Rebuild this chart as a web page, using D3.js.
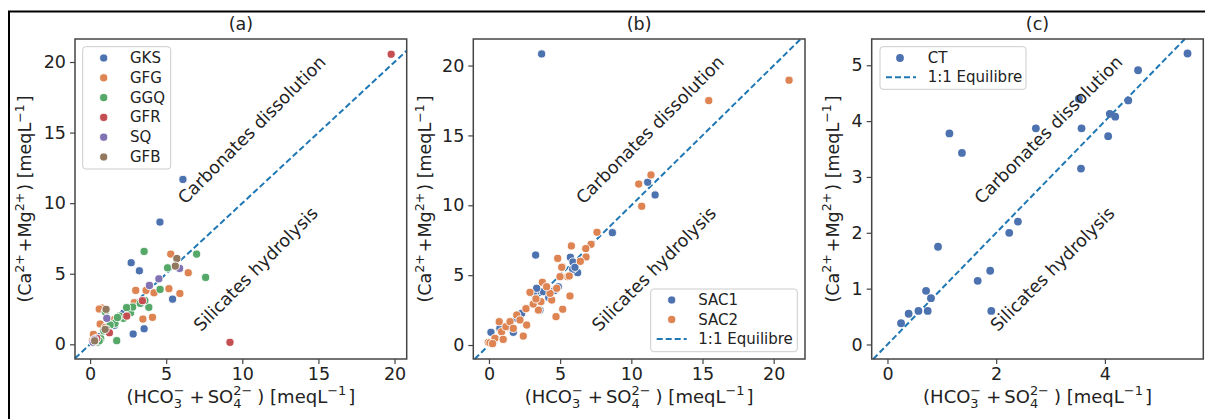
<!DOCTYPE html>
<html>
<head>
<meta charset="utf-8">
<script src="https://cdn.jsdelivr.net/npm/d3@7"></script>
<style>
  body { margin: 0; background: #fff; }
  svg text { font-family: "DejaVu Sans", sans-serif; fill: #222; white-space: pre; }
</style>
</head>
<body>
<svg id="chart" width="1205" height="419"></svg>
<script>
// ---- data ----
var groupNamesA = ["GKS", "GFG", "GGQ", "GFR", "SQ", "GFB"];
var gks = [[6.1,11.68],[4.59,8.66],[2.7,5.78],[3.24,5.21],[5.42,3.2],[3.55,1.1],[2.83,0.73],[1.6,1.35],[0.3,0.3],[0.5,0.55],[2.2,2.2]];
var gfg = [[5.3,6.39],[6.45,5.07],[5.18,3.94],[5.9,3.6],[3.0,3.82],[3.68,3.82],[4.2,3.65],[3.47,1.79],[4.1,1.91],
           [0.79,2.57],[0.6,2.5],[0.66,1.44],[0.22,0.7],[0.4,0.4],[1.0,1.2],[1.6,1.75],[0.15,0.25],[2.9,2.95]];
var ggq = [[3.55,6.58],[7.0,6.39],[7.59,4.74],[5.09,5.42],[4.6,3.89],[3.86,2.62],[2.66,2.24],[2.8,2.64],[1.75,0.26],
           [2.19,1.84],[1.93,2.0],[1.64,1.49],[1.32,1.37],[1.1,1.05],[0.9,0.95],[0.7,0.4],[0.5,0.15],[3.3,2.9],
           [3.6,3.1],[2.4,2.6],[1.8,1.9],[1.0,2.3],[0.6,0.25]];
var gfr = [[19.78,20.55],[9.19,0.14],[3.44,3.09],[2.41,2.0],[1.27,0.82],[0.44,0.42],[0.3,0.2]];
var sq  = [[5.88,5.38],[4.52,4.64],[3.9,4.17],[1.1,1.84],[0.3,0.35],[0.2,0.15]];
var gfb = [[5.7,6.08],[5.6,5.54],[1.05,2.48],[0.99,1.06],[0.3,0.25]];

var groupNamesB = ["SAC1", "SAC2"];
var sac1 = [[3.7,20.83],[11.15,11.65],[11.67,10.74],[8.67,8.04],[3.28,6.44],[5.72,6.28],[5.9,5.94],[6.23,5.18],[5.88,5.42],
            [6.04,5.56],[3.58,2.5],[3.4,3.87],[3.82,3.82],[3.11,3.7],[3.35,4.06],[4.87,4.17],[4.6,3.9],[1.71,0.91],
            [0.14,0.91],[1.95,1.91],[2.3,2.27],[1.36,1.31],[0.77,1.19],[0.3,0.2],[4.2,3.4]];
var sac2 = [[21.08,18.95],[15.44,17.49],[11.38,12.17],[10.52,11.52],[10.73,9.93],[7.59,8.07],[7.17,7.21],[5.79,7.09],
            [6.8,6.9],[4.83,6.2],[6.82,6.3],[6.42,5.99],[5.15,5.6],[5.53,4.89],[3.75,4.49],[2.88,3.77],[5.69,3.51],
            [5.18,2.56],[4.71,2.03],[2.41,0.64],[0.72,1.67],[-0.05,0.19],[0.07,0.16],[0.42,0.48],[0.89,0.95],
            [1.19,1.31],[1.48,1.67],[1.95,2.15],[2.18,1.79],[1.71,1.19],[2.65,1.43],[3.47,2.5],[3.11,2.93],
            [3.65,3.1],[4.41,3.22],[4.29,3.7],[4.05,4.17],[4.76,4.06],[4.99,4.89],[5.64,4.94],[5.11,5.56],
            [2.6,2.6],[3.3,3.3],[0.25,0.1],[1.0,0.4]];

var groupNamesC = ["CT"];
var ct = [[5.52,5.21],[4.61,4.91],[3.52,4.4],[4.43,4.37],[4.09,4.13],[4.19,4.08],[2.73,3.87],[3.57,3.87],[4.06,3.73],
          [1.14,3.78],[1.37,3.43],[3.56,3.15],[2.4,2.2],[2.24,2.0],[0.93,1.75],[1.89,1.32],[1.66,1.14],[0.71,0.96],
          [0.8,0.83],[1.91,0.6],[0.74,0.6],[0.57,0.6],[0.39,0.55],[0.25,0.38]];

var titles = ["(a)", "(b)", "(c)"];
var ticksAB = [0, 5, 10, 15, 20];
var ticksCx = [0, 2, 4];
var ticksCy = [0, 1, 2, 3, 4, 5];
var lineLabel = "1:1 Equilibre";
var upperText = "Carbonates dissolution";
var lowerText = "Silicates hydrolysis";

var palette = ["#4c72b0", "#dd8452", "#55a868", "#c44e52", "#8172b3", "#937860"];
var lineColor = "#1f77b4";

// ---- drawing ----
var svg = d3.select("#chart");
var FS = 17.5;

var ctx = document.createElement("canvas").getContext("2d");
function textW(s, fs) {
  ctx.font = fs + 'px "DejaVu Sans"';
  return ctx.measureText(s).width;
}

// text with super/subscripts, centred on (0,0) horizontally
function richText(g, parts, fs) {
  var t = g.append("text").attr("font-size", fs);
  var x = 0, sfs = fs * 0.72;
  parts.forEach(function(p) {
    if (typeof p === "number") { x += p; return; }
    if (typeof p === "string") {
      t.append("tspan").attr("x", x).attr("y", 0).text(p);
      x += textW(p, fs);
    } else {
      var adv = 0;
      if (p.sub) {
        t.append("tspan").attr("x", x).attr("y", fs * 0.28).attr("font-size", sfs).text(p.sub);
        adv = Math.max(adv, textW(p.sub, sfs));
      }
      if (p.sup) {
        t.append("tspan").attr("x", x).attr("y", -fs * 0.42).attr("font-size", sfs).text(p.sup);
        adv = Math.max(adv, textW(p.sup, sfs));
      }
      x += adv + 2;
    }
  });
  t.attr("transform", "translate(" + (-x / 2) + ",0)");
  return t;
}

var xLabelParts = ["(HCO", {sub: "3", sup: "\u2212"}, 3, "+", 3, "SO", {sub: "4", sup: "2\u2212"}, 3, ") [meqL", {sup: "\u22121"}, "]"];
var yLabelParts = ["(Ca", {sup: "2+"}, "+Mg", {sup: "2+"}, ") [meqL", {sup: "\u22121"}, "]"];

// outer frame
svg.append("path").attr("d", "M9,420V11.5H1206").attr("fill", "none").attr("stroke", "#000").attr("stroke-width", 2);

function panel(cfg) {
  var x = d3.scaleLinear().domain(cfg.xd).range([cfg.left, cfg.right]);
  var y = d3.scaleLinear().domain(cfg.yd).range([cfg.bottom, cfg.top]);
  var g = svg.append("g");

  // 1:1 line
  var lo = Math.max(cfg.xd[0], cfg.yd[0]), hi = Math.min(cfg.xd[1], cfg.yd[1]);
  g.append("line")
    .attr("x1", x(lo)).attr("y1", y(lo)).attr("x2", x(hi)).attr("y2", y(hi))
    .attr("stroke", lineColor).attr("stroke-width", 2).attr("stroke-dasharray", "6,3");

  // points
  cfg.series.forEach(function(s, i) {
    g.append("g").selectAll("circle").data(s).enter().append("circle")
      .attr("cx", function(d) { return x(d[0]); })
      .attr("cy", function(d) { return y(d[1]); })
      .attr("r", cfg.edge ? 4.1 : 3.9)
      .attr("fill", palette[i])
      .attr("stroke", cfg.edge ? "#fff" : "none")
      .attr("stroke-width", 0.9);
  });

  // annotations
  var w = cfg.right - cfg.left, h = cfg.bottom - cfg.top;
  [[upperText, 0.533, 0.284], [lowerText, 0.545, 0.719]].forEach(function(a) {
    var cx = cfg.left + a[1] * w, cy = cfg.top + a[2] * h;
    g.append("text").attr("font-size", FS)
      .attr("text-anchor", "middle").attr("dominant-baseline", "central")
      .attr("transform", "translate(" + cx + "," + cy + ") rotate(-45)")
      .text(a[0]);
  });

  // axes
  var xa = g.append("g").attr("transform", "translate(0," + cfg.bottom + ")")
    .call(d3.axisBottom(x).tickValues(cfg.xt).tickSize(5).tickPadding(4).tickFormat(d3.format("d")));
  var ya = g.append("g").attr("transform", "translate(" + cfg.left + ",0)")
    .call(d3.axisLeft(y).tickValues(cfg.yt).tickSize(5).tickPadding(4).tickFormat(d3.format("d")));
  [xa, ya].forEach(function(a) {
    a.select(".domain").remove();
    a.selectAll("line").attr("stroke", "#444").attr("stroke-width", 1.2);
    a.selectAll("text").attr("font-size", FS).attr("font-family", null).attr("fill", "#222");
  });
  g.append("rect").attr("x", cfg.left).attr("y", cfg.top).attr("width", w).attr("height", h)
    .attr("fill", "none").attr("stroke", "#444").attr("stroke-width", 1.5);

  // title and labels
  g.append("text").attr("x", cfg.left + w / 2).attr("y", 30).attr("text-anchor", "middle")
    .attr("font-size", FS).text(cfg.title);
  richText(g.append("g").attr("transform", "translate(" + (cfg.left + w / 2) + ",403)"), xLabelParts, 18);
  richText(g.append("g").attr("transform", "translate(" + (cfg.left - cfg.ylOff) + "," + (cfg.top + h / 2) + ") rotate(-90)"),
    yLabelParts, FS);

  // legend
  var L = cfg.legend;
  var lg = g.append("g");
  lg.append("rect").attr("x", L.x0).attr("y", L.y0).attr("width", L.x1 - L.x0).attr("height", L.y1 - L.y0)
    .attr("rx", 3).attr("fill", "#fff").attr("fill-opacity", 0.8).attr("stroke", "#ccc");
  L.names.forEach(function(n, i) {
    var ry = L.rowY + i * L.step;
    lg.append("circle").attr("cx", L.mx).attr("cy", ry).attr("r", cfg.edge ? 4.1 : 3.9)
      .attr("fill", palette[i]).attr("stroke", cfg.edge ? "#fff" : "none").attr("stroke-width", 0.9);
    lg.append("text").attr("x", L.tx).attr("y", ry).attr("dominant-baseline", "central")
      .attr("font-size", 15).text(n);
  });
  if (L.line) {
    var ly = L.rowY + L.names.length * L.step;
    lg.append("line").attr("x1", L.line[0]).attr("x2", L.line[1]).attr("y1", ly).attr("y2", ly)
      .attr("stroke", lineColor).attr("stroke-width", 2).attr("stroke-dasharray", "6,3");
    lg.append("text").attr("x", L.tx).attr("y", ly).attr("dominant-baseline", "central")
      .attr("font-size", 15).text(lineLabel);
  }
}

panel({
  title: titles[0], left: 75, right: 406.7, top: 39, bottom: 359,
  xd: [-0.99, 20.8], yd: [-1.04, 21.63], xt: ticksAB, yt: ticksAB, ylOff: 44, edge: true,
  series: [gks, gfg, ggq, gfr, sq, gfb],
  legend: {x0: 82.7, x1: 170.7, y0: 46.7, y1: 169, rowY: 58, step: 19.8, mx: 103.7, tx: 130, names: groupNamesA}
});
panel({
  title: titles[1], left: 473.3, right: 805, top: 39, bottom: 359,
  xd: [-1.1, 22.2], yd: [-1.0, 21.9], xt: ticksAB, yt: ticksAB, ylOff: 42, edge: true,
  series: [sac1, sac2],
  legend: {x0: 650.7, x1: 797.3, y0: 289, y1: 351.7, rowY: 300, step: 19.5, mx: 671.7, tx: 698.3,
           names: groupNamesB, line: [656.7, 686.7]}
});
panel({
  title: titles[2], left: 871.7, right: 1203.3, top: 39, bottom: 359,
  xd: [-0.29, 5.81], yd: [-0.26, 5.47], xt: ticksCx, yt: ticksCy, ylOff: 33, edge: false,
  series: [ct],
  legend: {x0: 880, x1: 1026, y0: 46.7, y1: 89.3, rowY: 58, step: 19.3, mx: 900, tx: 927.7,
           names: groupNamesC, line: [886, 916]}
});
</script>
</body>
</html>
